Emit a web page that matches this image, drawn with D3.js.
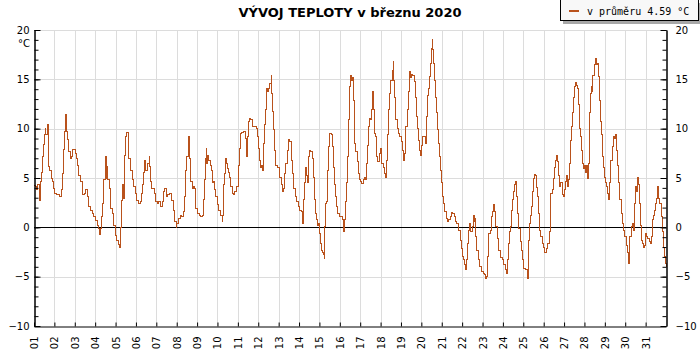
<!DOCTYPE html>
<html>
<head>
<meta charset="utf-8">
<script src="https://cdn.jsdelivr.net/npm/d3@7"></script>
<style>
  body { margin: 0; background: #fff; }
  svg { display: block; font-family: "DejaVu Sans", sans-serif; }
</style>
</head>
<body>
<svg></svg>
<script>
const width = 700;
const height = 350;

const title = "VÝVOJ TEPLOTY v březnu 2020";
const legendText = "v průměru 4.59 °C";

const dayLabels = ["01","02","03","04","05","06","07","08","09","10","11","12","13","14","15","16",
    "17","18","19","20","21","22","23","24","25","26","27","28","29","30","31"];
const yTicks = [-10, -5, 0, 5, 10, 15, 20];

// hodiny od 1.3. 00:00
const hours = [
    0, 1.2, 2.4, 3.9, 6.3, 7.8, 9.4, 10.2, 11.0, 12.6, 13.3, 14.1, 15.7, 16.9, 18.8, 20.8, 22.0, 22.8,
    24.0, 26.7, 28.6, 30.6, 31.8, 33.0, 34.1, 35.3, 36.1, 36.9, 37.7, 38.5, 39.6, 40.8, 42.4, 44.0, 45.5, 47.5,
    49.1, 50.2, 51.4, 52.6, 54.2, 56.1, 57.3, 58.9, 61.2, 62.8, 64.7, 66.3, 68.3, 69.9,
    72.2, 74.6, 76.1, 76.9, 77.7, 79.3, 80.4, 81.6, 82.4, 84.0, 85.2, 85.5, 86.7, 88.3, 89.5, 90.6, 92.2, 93.8, 95.4,
    96.9, 98.9, 101.2, 102.0, 102.8, 103.6, 104.8, 105.6, 106.7, 107.9, 109.1, 110.7, 111.8, 113.8, 115.8, 117.7, 119.3,
    120.9, 122.8, 124.8, 126.7, 127.9, 128.7, 129.9, 131.1, 131.5, 133.4, 135.4, 135.8, 137.0, 138.9, 141.3, 142.8,
    144.8, 146.4, 149.1, 151.5, 153.0, 154.2, 155.8, 157.4, 159.3, 162.1, 164.0, 165.6, 167.2,
    168.3, 169.9, 171.9, 173.8, 175.8, 176.6, 177.8, 178.9, 179.7, 181.3, 182.5, 183.6, 184.8, 186.4, 187.6, 189.1, 190.3,
    192.2, 194.6, 196.2, 198.1, 199.3, 200.5, 201.7, 202.8, 203.6, 204.8, 206.0, 207.9, 209.1, 210.3, 211.1, 212.6, 213.8,
    215.8, 217.7, 219.7, 221.7, 222.4, 223.2, 224.4, 226.0, 227.2, 228.3, 229.5, 230.7, 231.9, 233.4, 235.4, 236.6, 238.9,
    240.5, 241.3, 242.1, 242.9, 244.8, 246.8, 249.1, 250.3, 251.5, 252.7, 253.8, 255.4, 257.4, 260.1, 262.1,
    263.3, 264.4, 265.2, 266.8, 268.0, 269.5, 270.7, 271.5, 272.7, 273.5, 274.2, 275.4, 276.6, 277.8, 279.0, 280.1, 281.3,
    282.5, 283.7, 284.8, 286.8, 288.0, 289.5, 291.1, 292.7, 293.9, 295.0, 296.6, 298.2, 299.8, 301.3, 302.9, 304.5,
    306.0, 307.6, 309.2, 311.1, 313.1, 314.7, 315.8, 316.6, 317.8, 319.0, 320.2, 320.9, 321.7, 323.3, 324.5, 326.0,
    327.6, 328.8, 330.0, 331.1, 332.3, 333.5, 335.1, 335.9, 336.6, 337.8, 339.0, 340.2, 341.0, 341.7, 342.5, 343.3,
    344.5, 345.7, 347.2, 348.4, 350.4, 351.9, 353.1, 354.3, 355.1, 356.3, 357.8, 359.8, 361.8, 362.9, 364.1, 364.9,
    365.7, 366.9, 367.6, 368.8, 370.0, 371.2, 372.3, 374.3, 375.3, 376.3, 377.2, 377.8, 379.0, 380.5, 382.1, 383.7,
    384.8, 386.0, 387.6, 389.2, 390.7, 391.9, 393.1, 394.3, 395.4, 396.2, 397.8, 399.0, 399.8, 400.9, 402.1, 403.3,
    404.9, 406.4, 408.4, 409.6, 411.1, 412.7, 414.3, 415.1, 416.2, 417.8, 419.0, 420.2, 421.7, 422.9, 423.7, 424.9,
    426.0, 427.6, 429.2, 430.8, 432.7, 433.9, 435.5, 436.6, 437.8, 439.4, 440.6, 441.7, 442.9, 444.5, 446.1, 447.6,
    448.8, 450.4, 451.9, 453.1, 454.3, 455.1, 455.9, 457.8, 459.8, 461.4, 462.5, 463.3, 464.5, 465.3, 466.5, 467.6,
    468.8, 469.6, 470.4, 472.0, 473.1, 474.3, 475.5, 476.7, 477.8, 479.0, 480.2, 481.4, 482.2, 483.7, 485.3, 486.9,
    488.4, 490.0, 491.6, 493.2, 494.7, 496.3, 497.9, 499.4, 501.0, 501.8, 503.0, 504.5, 505.7, 507.3, 508.5, 509.2,
    510.0, 511.6, 513.2, 514.3, 515.9, 517.1, 518.3, 519.4, 520.2, 521.4, 523.0, 524.9, 526.9, 528.9, 530.4, 532.0,
    532.8, 533.9, 535.5, 537.1, 538.7, 539.8, 541.4, 542.6, 543.8, 545.7, 547.3, 549.3, 551.2, 552.8, 554.8, 556.3,
    557.9, 559.1, 560.3, 561.4, 562.4, 563.5, 564.6, 566.0, 567.4, 568.5, 569.7, 570.9, 572.5, 574.0, 575.2, 576.8,
    578.3, 579.9, 581.5, 582.3, 583.4, 584.2, 585.4, 586.6, 587.8, 588.9, 590.5, 591.7, 592.9, 594.0, 595.2, 596.8,
    598.4, 599.9, 601.5, 603.1, 604.6, 606.6, 607.8, 608.6, 609.7, 610.5, 611.7, 612.9, 614.1, 615.2, 616.4, 617.6,
    619.2, 620.3, 621.9, 623.5, 625.0, 626.2, 627.4, 628.6, 629.8, 630.9, 631.7, 632.9, 634.1, 635.3, 636.4, 637.2,
    638.4, 639.6, 640.7, 641.9, 643.1, 644.3, 645.8, 646.6, 648.2, 649.4, 650.6, 651.7, 652.9, 653.7, 654.5, 655.3,
    656.0, 656.8, 658.0, 659.6, 660.8, 661.9, 663.1, 664.3, 665.5, 666.6, 667.8, 669.0, 670.2, 671.4, 672.5, 673.7,
    674.9, 676.5, 677.6, 679.2, 680.8, 681.9, 683.1, 684.3, 685.9, 687.4, 688.6, 689.8, 691.4, 692.9, 694.5, 695.7,
    697.2, 698.4, 700.0, 701.6, 703.1, 704.3, 705.5, 706.7, 707.5, 708.2, 709.0, 710.2, 711.0, 711.8, 713.0, 714.1,
    715.3, 716.5, 717.7, 718.8, 720.4, 721.6, 722.8, 724.3, 725.5, 726.7, 727.9, 729.0, 730.2, 731.4, 732.6, 733.7,
    734.5, 735.7, 736.9, 738.5, 740.0, 741.2, 742.4, 743.2, 744.0
];

const temps = [
    4.2, 4.1, 3.8, 4.3, 2.75, 4.6, 5.6, 7.2, 8.4, 9.4, 10.0, 9.4, 10.4, 6.2, 5.8, 5.0, 4.6, 3.9,
    3.4, 3.3, 3.3, 3.1, 3.8, 4.6, 5.5, 7.9, 9.7, 11.4, 10.2, 9.7, 8.9, 7.7, 7.0, 7.2, 7.9, 7.9,
    7.5, 7.0, 6.3, 5.3, 4.6, 4.6, 3.3, 3.4, 3.8, 3.1, 2.1, 1.7, 1.4, 1.1,
    0.7, 0.2, -0.1, -0.7, -0.1, 1.05, 2.4, 3.4, 4.8, 7.2, 5.0, 6.2, 4.8, 3.9, 3.1, 1.9, 1.4, 0.2, -0.8,
    -1.3, -1.7, -2.0, 0.0, 2.75, 4.3, 3.8, 2.9, 7.3, 9.2, 9.6, 7.7, 7.0, 5.8, 4.8, 4.1, 3.4,
    2.75, 2.4, 2.6, 3.4, 4.3, 5.6, 6.8, 6.3, 5.8, 6.5, 7.2, 6.2, 4.6, 3.9, 3.4, 2.6,
    2.4, 2.6, 2.1, 2.6, 3.6, 3.9, 3.1, 3.3, 3.4, 2.75, 1.7, 0.55, 0.03,
    0.4, 0.9, 1.2, 1.05, 1.6, 3.1, 4.6, 5.8, 7.2, 9.2, 8.4, 7.0, 4.6, 3.9, 4.1, 3.9, 1.9,
    1.4, 1.25, 1.1, 1.25, 2.8, 4.8, 7.0, 8.0, 6.5, 7.3, 6.8, 6.3, 5.8, 4.5, 4.6, 3.8, 3.1,
    2.3, 1.75, 1.25, 0.6, 1.25, 4.3, 5.5, 7.0, 6.5, 6.0, 5.6, 5.1, 4.1, 3.4, 3.3, 3.6, 4.1,
    5.0, 6.3, 8.0, 9.5, 9.6, 9.7, 9.0, 7.2, 9.2, 10.7, 11.0, 10.9, 10.2, 10.2, 10.0,
    9.2, 8.0, 6.8, 6.1, 6.3, 5.8, 8.5, 10.4, 11.9, 13.2, 14.1, 13.8, 14.1, 14.6, 15.4, 13.6, 11.7,
    9.9, 7.8, 6.3, 6.1, 6.1, 5.1, 4.3, 3.6, 3.9, 5.5, 6.5, 7.8, 8.9, 8.7, 6.8, 5.5,
    3.9, 3.1, 2.6, 2.1, 1.75, 1.6, 1.1, 0.4, 2.8, 4.5, 6.1, 5.3, 4.5, 7.2, 7.8, 7.7,
    7.0, 5.1, 2.8, 1.4, 0.75, 0.2, 0.4, -0.1, -0.6, -1.6, -2.3, -2.5, -2.8, -3.2, 0.07, 2.4,
    2.6, 5.8, 8.2, 9.5, 9.4, 8.2, 6.1, 4.3, 3.1, 2.1, 1.4, 1.1, 1.1, 0.75, -0.3, -0.4,
    0.75, 2.6, 4.5, 7.2, 10.9, 14.3, 15.4, 14.9, 15.2, 12.9, 10.0, 8.5, 7.7, 6.7, 5.5, 4.8,
    4.6, 4.45, 4.8, 5.1, 4.8, 6.5, 8.3, 10.2, 11.0, 10.9, 11.9, 13.75, 11.9, 9.5, 9.2, 7.2,
    6.7, 7.5, 8.0, 6.5, 6.1, 5.5, 5.1, 6.8, 9.4, 11.9, 13.6, 14.9, 15.9, 16.8, 14.9, 13.2,
    10.9, 10.0, 9.5, 9.2, 8.7, 7.8, 6.8, 7.5, 10.2, 11.9, 13.75, 15.8, 15.2, 15.5, 15.4, 14.8,
    13.2, 11.2, 10.0, 8.85, 7.8, 7.3, 8.3, 9.2, 9.2, 8.5, 11.2, 13.4, 14.1, 15.3, 16.6, 18.1,
    19.0, 18.0, 16.6, 14.9, 13.2, 11.6, 9.9, 8.5, 7.2, 5.8, 4.5, 3.1, 2.4, 1.6, 0.9, 0.6,
    0.75, 1.1, 1.5, 1.4, 1.1, 0.6, 0.4, -0.3, -0.3, -1.3, -2.1, -3.0, -3.3, -3.8, -4.3, -3.3,
    -1.6, -0.3, 0.4, -0.4, 0.07, 1.25, 0.6, 0.9, -0.9, -2.3, -3.3, -4.0, -4.5, -4.7, -4.8, -5.2,
    -5.0, -3.0, -0.6, -0.3, 1.1, 1.6, 2.3, 1.6, 0.07, -1.1, -2.3, -3.1, -3.3, -3.8, -4.3, -4.7,
    -3.3, -1.6, -0.45, 0.07, 1.75, 2.8, 3.6, 4.3, 4.6, 3.1, 1.4, -0.1, -1.45, -2.3, -3.3, -4.2,
    -4.3, -4.3, -5.2, -1.3, 0.4, 1.25, 2.1, 3.6, 5.0, 5.4, 5.3, 4.0, 3.1, 1.4, -0.3, -0.9,
    -1.6, -2.0, -2.5, -2.1, -1.6, -0.45, 1.1, 3.4, 3.4, 3.8, 5.0, 6.1, 6.8, 7.3, 6.7, 5.3,
    4.1, 4.5, 3.3, 3.1, 3.8, 4.6, 5.3, 4.1, 4.8, 6.5, 8.85, 10.2, 11.6, 13.2, 14.3, 14.7,
    14.4, 14.1, 12.4, 10.0, 9.2, 7.8, 6.5, 6.0, 6.3, 5.6, 6.3, 5.0, 6.5, 8.2, 11.6, 13.6,
    14.3, 13.75, 15.4, 16.5, 17.1, 16.5, 16.6, 15.3, 12.9, 10.7, 9.4, 7.2, 6.1, 5.1, 4.5, 4.1,
    3.4, 2.8, 4.5, 6.8, 8.2, 9.2, 9.0, 9.4, 7.8, 6.3, 4.5, 2.8, 1.4, 0.4, -0.3, -0.9,
    -1.8, -2.5, -3.65, -0.9, 0.07, 0.4, -0.3, 1.4, 2.4, 4.1, 3.6, 4.6, 5.1, 4.3, 2.4, 0.2,
    -1.3, -1.6, -2.0, -1.8, -0.6, -0.9, -1.1, -1.45, -1.6, -0.9, 0.75, 1.25, 1.75, 2.4, 2.9, 3.4,
    4.1, 2.9, 2.4, 1.1, -0.45, -2.0, -3.0, -3.65, -4.0
];

const svg = d3.select("svg")
    .attr("width", width)
    .attr("height", height);

const plotLeft = 34, plotRight = 666, plotTop = 30, plotBottom = 326;

const x = d3.scaleLinear().domain([0, 744]).range([plotLeft, plotRight]);
const y = d3.scaleLinear().domain([-10, 20]).range([plotBottom, plotTop]);

const dayHours = dayLabels.map((d, i) => i * 24);
const minorTicks = d3.range(-10, 21);

// mrizka
svg.append("g")
    .selectAll("line")
    .data(dayHours.slice(1))
    .enter().append("line")
    .attr("x1", d => Math.round(x(d)) + 0.5)
    .attr("x2", d => Math.round(x(d)) + 0.5)
    .attr("y1", plotTop)
    .attr("y2", plotBottom)
    .attr("stroke", "#dcdcdc");

svg.append("g")
    .selectAll("line")
    .data(yTicks.filter(d => d !== 0 && d !== -10))
    .enter().append("line")
    .attr("x1", plotLeft)
    .attr("x2", plotRight)
    .attr("y1", d => Math.round(y(d)) + 0.5)
    .attr("y2", d => Math.round(y(d)) + 0.5)
    .attr("stroke", "#dcdcdc");

// nula
svg.append("line")
    .attr("x1", plotLeft)
    .attr("x2", plotRight)
    .attr("y1", Math.round(y(0)) + 0.5)
    .attr("y2", Math.round(y(0)) + 0.5)
    .attr("stroke", "#000");

// krivka teploty
const line = d3.line()
    .x((d, i) => x(hours[i]))
    .y(d => y(d))
    .curve(d3.curveStepAfter);

svg.append("path")
    .datum(temps)
    .attr("fill", "none")
    .attr("stroke", "#b9521c")
    .attr("stroke-width", 1)
    .attr("shape-rendering", "crispEdges")
    .attr("d", line);

// osy
function styleAxis(g) {
    g.selectAll("text").attr("font-family", "DejaVu Sans").attr("font-size", 10).attr("fill", "#000");
    g.selectAll("line").attr("stroke", "#000");
    g.select(".domain").attr("stroke", "#000");
}

svg.append("g")
    .attr("transform", `translate(${plotLeft + 0.5},0)`)
    .call(d3.axisLeft(y).tickValues(minorTicks).tickSize(-4).tickSizeOuter(0).tickFormat(""))
    .call(styleAxis);
svg.append("g")
    .attr("transform", `translate(${plotLeft + 0.5},0)`)
    .call(d3.axisLeft(y).tickValues(yTicks).tickSize(-6).tickSizeOuter(0).tickPadding(5))
    .call(styleAxis);

svg.append("g")
    .attr("transform", `translate(${plotRight + 0.5},0)`)
    .call(d3.axisRight(y).tickValues(minorTicks).tickSize(-4).tickSizeOuter(0).tickFormat(""))
    .call(styleAxis);
svg.append("g")
    .attr("transform", `translate(${plotRight + 0.5},0)`)
    .call(d3.axisRight(y).tickValues(yTicks).tickSize(-6).tickSizeOuter(0).tickPadding(9))
    .call(styleAxis);

svg.append("text")
    .attr("x", 30)
    .attr("y", 47)
    .attr("text-anchor", "end")
    .attr("font-size", 10)
    .text("°C");

const xAxis = svg.append("g")
    .attr("transform", `translate(0,${plotBottom + 0.5})`)
    .call(d3.axisBottom(x).tickValues(dayHours).tickSize(-4).tickSizeOuter(0)
        .tickFormat((d, i) => dayLabels[i]))
    .call(styleAxis);

xAxis.selectAll(".tick text")
    .attr("transform", "rotate(-90)")
    .attr("text-anchor", "end")
    .attr("x", -10)
    .attr("y", 0)
    .attr("dy", "0.35em");

// nadpis
svg.append("text")
    .attr("x", 350)
    .attr("y", 17)
    .attr("text-anchor", "middle")
    .attr("font-size", 13)
    .attr("font-weight", "bold")
    .text(title);

// legenda
svg.append("rect")
    .attr("x", 563).attr("y", 3)
    .attr("width", 140).attr("height", 21)
    .attr("fill", "#a8a8a8");
svg.append("rect")
    .attr("x", 560.5).attr("y", -0.5)
    .attr("width", 138).attr("height", 21)
    .attr("fill", "#f8f8f8")
    .attr("stroke", "#000");
svg.append("line")
    .attr("x1", 569).attr("x2", 579)
    .attr("y1", 11).attr("y2", 11)
    .attr("stroke", "#b9521c")
    .attr("stroke-width", 2);
svg.append("text")
    .attr("x", 587)
    .attr("y", 15)
    .attr("font-family", "DejaVu Sans Mono")
    .attr("font-size", 10)
    .text(legendText);
</script>
</body>
</html>
